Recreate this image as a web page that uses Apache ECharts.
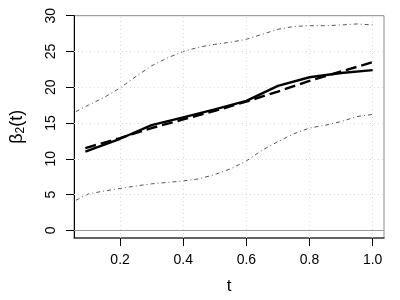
<!DOCTYPE html>
<html><head><meta charset="utf-8">
<script src="https://cdn.jsdelivr.net/npm/echarts@6/dist/echarts.min.js"></script>
<style>html,body{margin:0;padding:0;background:#fff}#c{width:400px;height:300px}</style>
</head><body><div id="c"></div>
<script>
// Estimate lines (solid and dashed)
var tEst = [0.09, 0.2, 0.3, 0.4, 0.5, 0.6, 0.7, 0.8, 0.9, 1.0];
var solidVals = [11.0, 12.8, 14.7, 15.8, 16.9, 18.1, 20.2, 21.4, 22.0, 22.4];
var dashedVals = [11.5, 12.9, 14.3, 15.5, 16.7, 18.0, 19.4, 20.9, 22.2, 23.5];
// Confidence band (dash-dot)
var tBand = [0.06, 0.1, 0.15, 0.2, 0.25, 0.3, 0.35, 0.4, 0.45, 0.5, 0.55, 0.6, 0.65, 0.7, 0.75, 0.8, 0.85, 0.9, 0.95, 1.0];
var upperVals = [16.6, 17.5, 18.6, 19.9, 21.5, 23.0, 24.1, 25.0, 25.6, 26.0, 26.3, 26.7, 27.4, 28.1, 28.5, 28.6, 28.6, 28.7, 28.85, 28.7];
var lowerVals = [4.2, 5.1, 5.5, 5.85, 6.2, 6.5, 6.7, 6.9, 7.2, 7.8, 8.6, 9.7, 11.2, 12.4, 13.5, 14.3, 14.7, 15.2, 15.9, 16.2];
// Tick values
var xTicks = [0.2, 0.4, 0.6, 0.8, 1.0];
var yTicks = [0, 5, 10, 15, 20, 25, 30];
var yGrid = [5, 10, 15, 20, 25];

function zip(a, b) { return a.map(function (v, i) { return [v, b[i]]; }); }
var font = 'Liberation Sans, Arial, sans-serif';
var chart = echarts.init(document.getElementById('c'), null, {renderer: 'canvas'});
var gridLines = xTicks.map(function (v) { return {xAxis: v}; })
  .concat(yGrid.map(function (v) { return {yAxis: v}; }));
chart.setOption({
  animation: false,
  grid: {left: 73, right: 16, top: 15.7, bottom: 60, show: true, borderColor: '#8a8a8a', borderWidth: 1, backgroundColor: 'transparent'},
  xAxis: {
    type: 'value', min: 0.054, max: 1.036,
    name: 't', nameLocation: 'middle', nameGap: 40,
    nameTextStyle: {fontFamily: font, fontSize: 17, color: '#000'},
    axisLine: {show: true, onZero: false, lineStyle: {color: '#444', width: 1.5}},
    axisTick: {show: true, customValues: xTicks, length: 8, lineStyle: {color: '#000'}},
    axisLabel: {customValues: xTicks, fontFamily: font, fontSize: 14, color: '#000', margin: 15,
      formatter: function (v) { return v.toFixed(1); }},
    splitLine: {show: false}
  },
  yAxis: {
    type: 'value', min: -1.07, max: 30,
    name: '{a|β}{b|2}{a|(t)}', nameLocation: 'middle', nameGap: 47, nameRotate: 90,
    nameTextStyle: {fontFamily: font, color: '#000',
      rich: {a: {fontSize: 18, fontFamily: font, color: '#000'}, b: {fontSize: 12, fontFamily: font, color: '#000', padding: [8, 0, 0, 0]}}},
    axisLine: {show: true, onZero: false, lineStyle: {color: '#000', width: 1}},
    axisTick: {show: true, customValues: yTicks, length: 8, lineStyle: {color: '#000'}},
    axisLabel: {customValues: yTicks, fontFamily: font, fontSize: 14, color: '#000', margin: 16, rotate: 90},
    splitLine: {show: false}
  },
  series: [
    {type: 'line', data: zip(tEst, solidVals), showSymbol: false, lineStyle: {color: '#000', width: 2.4}, z: 5,
      markLine: {silent: true, symbol: 'none', label: {show: false},
        lineStyle: {color: '#d8d8d8', type: [1, 3], width: 1}, data: gridLines}},
    {type: 'line', data: zip(tEst, dashedVals), showSymbol: false, lineStyle: {color: '#000', width: 2.4, type: [11, 5]}, z: 5,
      markLine: {silent: true, symbol: 'none', label: {show: false},
        lineStyle: {color: '#9a9a9a', type: 'solid', width: 1}, data: [{yAxis: 0}]}},
    {type: 'line', data: zip(tBand, upperVals), showSymbol: false, lineStyle: {color: '#555', width: 1, type: [4, 3, 1, 3]}},
    {type: 'line', data: zip(tBand, lowerVals), showSymbol: false, lineStyle: {color: '#555', width: 1, type: [4, 3, 1, 3]}}
  ]
});
</script></body></html>
